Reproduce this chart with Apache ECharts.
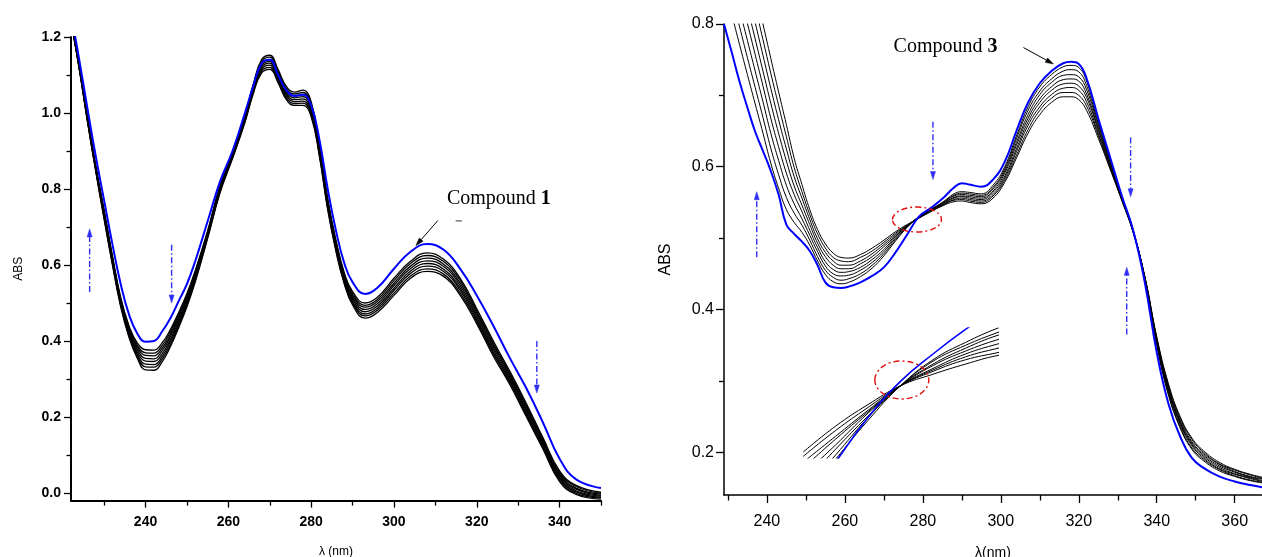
<!DOCTYPE html>
<html><head><meta charset="utf-8">
<script src="https://cdn.jsdelivr.net/npm/echarts@6/dist/echarts.min.js"></script>
<style>html,body{margin:0;padding:0;background:#fff}#c{width:1262px;height:557px}</style>
</head><body><div id="c"></div>
<script>
// ---------- Left panel (Compound 1) ----------
const xL = [222,224,226,228,230,232,234,236,238,240,242,244,246,248,250,252,255,258,261,264,266,268,270,272,274,276,278,280,282,284,286,288,290,293,296,300,304,308,312,316,320,324,328,332,336,340,344,350];
const blueL = [1.26,1.14,1.01,0.885,0.77,0.655,0.55,0.47,0.42,0.398,0.40,0.425,0.46,0.505,0.55,0.61,0.715,0.82,0.90,1.00,1.07,1.13,1.14,1.10,1.06,1.045,1.048,1.02,0.93,0.80,0.69,0.605,0.555,0.524,0.54,0.59,0.635,0.655,0.64,0.59,0.52,0.44,0.355,0.275,0.185,0.09,0.036,0.013];
const blackL1 = [1.25,1.125,0.99,0.86,0.745,0.625,0.515,0.44,0.395,0.377,0.376,0.395,0.43,0.475,0.525,0.585,0.69,0.81,0.895,0.995,1.075,1.14,1.152,1.115,1.07,1.055,1.06,1.03,0.915,0.775,0.665,0.58,0.53,0.50,0.515,0.565,0.61,0.632,0.615,0.565,0.485,0.40,0.32,0.235,0.145,0.058,0.02,0.002];
const blackL2 = [1.249,1.124,0.988,0.858,0.741,0.621,0.511,0.436,0.389,0.369,0.368,0.388,0.424,0.469,0.52,0.581,0.687,0.807,0.893,0.992,1.071,1.135,1.147,1.11,1.065,1.05,1.054,1.024,0.911,0.771,0.661,0.576,0.525,0.494,0.509,0.559,0.604,0.625,0.609,0.559,0.479,0.394,0.315,0.23,0.141,0.054,0.017,-0.001];
const blackL3 = [1.247,1.122,0.986,0.856,0.738,0.618,0.508,0.431,0.384,0.362,0.361,0.381,0.417,0.464,0.515,0.576,0.684,0.804,0.891,0.989,1.068,1.13,1.141,1.105,1.06,1.045,1.049,1.019,0.906,0.766,0.656,0.571,0.52,0.489,0.504,0.552,0.597,0.618,0.602,0.552,0.474,0.389,0.31,0.225,0.136,0.05,0.013,-0.003];
const blackL4 = [1.246,1.121,0.984,0.854,0.734,0.614,0.504,0.427,0.378,0.354,0.353,0.374,0.411,0.458,0.51,0.572,0.681,0.801,0.889,0.986,1.064,1.125,1.136,1.10,1.055,1.04,1.043,1.013,0.902,0.762,0.652,0.567,0.515,0.483,0.498,0.546,0.591,0.611,0.596,0.546,0.468,0.383,0.305,0.22,0.132,0.046,0.01,-0.006];
const blackL5 = [1.244,1.119,0.981,0.851,0.731,0.611,0.501,0.423,0.372,0.347,0.346,0.366,0.404,0.452,0.505,0.568,0.679,0.799,0.886,0.984,1.061,1.12,1.131,1.095,1.05,1.035,1.037,1.007,0.898,0.758,0.648,0.563,0.51,0.477,0.492,0.539,0.584,0.604,0.589,0.539,0.462,0.377,0.30,0.215,0.128,0.042,0.006,-0.008];
const blackL6 = [1.243,1.118,0.979,0.849,0.727,0.607,0.497,0.419,0.366,0.339,0.338,0.359,0.398,0.446,0.50,0.564,0.676,0.796,0.884,0.981,1.057,1.115,1.126,1.09,1.045,1.03,1.031,1.001,0.894,0.754,0.644,0.559,0.505,0.471,0.486,0.533,0.578,0.597,0.583,0.533,0.456,0.371,0.295,0.21,0.124,0.038,0.003,-0.011];
const blackL7 = [1.241,1.116,0.977,0.847,0.724,0.604,0.494,0.414,0.361,0.332,0.331,0.352,0.391,0.441,0.495,0.559,0.673,0.793,0.882,0.978,1.054,1.11,1.12,1.085,1.04,1.025,1.026,0.996,0.889,0.749,0.639,0.554,0.50,0.466,0.481,0.526,0.571,0.59,0.576,0.526,0.451,0.366,0.29,0.205,0.119,0.034,-0.001,-0.013];
const blackL8 = [1.24,1.115,0.975,0.845,0.72,0.60,0.49,0.41,0.355,0.324,0.323,0.345,0.385,0.435,0.49,0.555,0.67,0.79,0.88,0.975,1.05,1.105,1.115,1.08,1.035,1.02,1.02,0.99,0.885,0.745,0.635,0.55,0.495,0.46,0.475,0.52,0.565,0.583,0.57,0.52,0.445,0.36,0.285,0.20,0.115,0.03,-0.004,-0.016];

// ---------- Right panel (Compound 3) ----------
const xR = [229,231,233,235,237,239,241,243,245,247,249,251,253,255,257,259,261,264,267,270,273,276,279,282,285,288,290,292,295,298,301,304,307,310,313,316,318,320,322,325,328,331,334,337,340,343,346,349,352,356,360,364,367];
const blueR = [.80,.76,.719,.683,.649,.622,.594,.561,.519,.506,.495,.482,.462,.438,.431,.430,.432,.438,.447,.459,.48,.505,.530,.542,.555,.571,.577,.575,.572,.582,.607,.650,.690,.717,.734,.745,.747,.744,.724,.668,.614,.560,.510,.436,.340,.268,.222,.192,.178,.166,.159,.154,.151];
const blackR1 = [.855,.813,.771,.729,.688,.647,.605,.570,.540,.522,.508,.490,.468,.449,.439,.436,.438,.446,.458,.475,.496,.515,.530,.540,.550,.562,.565,.564,.562,.574,.600,.643,.684,.712,.729,.740,.742,.739,.720,.665,.612,.559,.510,.441,.350,.280,.234,.204,.188,.174,.166,.160,.157];
const blackR2 = [.881,.839,.796,.753,.711,.669,.626,.589,.557,.535,.518,.497,.474,.455,.445,.441,.443,.450,.462,.478,.498,.516,.530,.540,.549,.560,.563,.562,.560,.571,.597,.639,.679,.706,.723,.734,.736,.733,.714,.661,.610,.558,.510,.442,.352,.282,.236,.206,.190,.176,.167,.161,.158];
const blackR3 = [.908,.864,.820,.777,.734,.691,.647,.609,.574,.548,.527,.504,.481,.461,.450,.447,.448,.455,.466,.481,.500,.516,.529,.539,.549,.559,.561,.560,.558,.569,.594,.634,.673,.701,.718,.728,.729,.726,.708,.658,.608,.557,.509,.442,.353,.285,.239,.209,.192,.177,.169,.163,.159];
const blackR4 = [.934,.890,.845,.801,.757,.713,.668,.628,.591,.561,.537,.511,.487,.467,.456,.452,.453,.459,.470,.484,.502,.517,.529,.539,.548,.557,.559,.558,.556,.566,.591,.630,.668,.695,.712,.722,.723,.720,.702,.654,.606,.556,.509,.443,.355,.287,.241,.211,.194,.179,.170,.164,.160];
const blackR5 = [.961,.915,.870,.824,.779,.734,.689,.647,.608,.573,.546,.519,.493,.474,.462,.457,.457,.464,.474,.488,.503,.517,.529,.538,.547,.556,.558,.556,.554,.564,.587,.625,.663,.690,.707,.716,.717,.713,.697,.651,.603,.556,.508,.443,.357,.289,.243,.213,.196,.181,.172,.165,.162];
const blackR6 = [.987,.941,.895,.848,.802,.756,.710,.666,.625,.586,.556,.526,.499,.480,.468,.462,.462,.468,.478,.491,.505,.518,.529,.538,.546,.554,.556,.554,.552,.561,.584,.621,.658,.684,.701,.710,.711,.707,.691,.647,.601,.555,.508,.444,.359,.291,.245,.215,.198,.183,.173,.166,.163];
const blackR7 = [1.014,.966,.919,.872,.825,.778,.731,.686,.642,.599,.565,.533,.506,.486,.473,.468,.467,.473,.482,.494,.507,.518,.528,.537,.546,.553,.554,.552,.550,.559,.581,.616,.652,.679,.696,.704,.704,.700,.685,.644,.599,.554,.507,.444,.360,.294,.248,.218,.200,.184,.175,.168,.164];
const blackR8 = [1.04,.992,.944,.896,.848,.800,.752,.705,.659,.612,.575,.540,.512,.492,.479,.473,.472,.477,.486,.497,.509,.519,.528,.537,.545,.551,.552,.550,.548,.556,.578,.612,.647,.673,.690,.698,.698,.694,.679,.640,.597,.553,.507,.445,.362,.296,.250,.220,.202,.186,.176,.169,.165];

// ---------- Inset (magnified isosbestic region of compound 3) ----------
const xIn = [260,265,270,275,280,285,290,295];
const blueIn = [0.444,0.477,0.508,0.533,0.552,0.569,0.584,0.598];
const blackIn1 = [0.451,0.479,0.506,0.530,0.548,0.560,0.570,0.578];
const blackIn2 = [0.457,0.482,0.508,0.530,0.547,0.558,0.567,0.575];
const blackIn3 = [0.462,0.486,0.509,0.530,0.545,0.556,0.565,0.571];
const blackIn4 = [0.468,0.489,0.511,0.530,0.544,0.554,0.562,0.568];
const blackIn5 = [0.473,0.493,0.512,0.530,0.542,0.552,0.559,0.565];
const blackIn6 = [0.477,0.495,0.513,0.530,0.541,0.550,0.556,0.561];
const blackIn7 = [0.481,0.499,0.515,0.530,0.540,0.548,0.553,0.558];
const blackIn8 = [0.484,0.502,0.517,0.530,0.538,0.545,0.551,0.554];

// ---------- Tick values ----------
const ticksLx = [240,260,280,300,320,340];
const minorLx = [230,250,270,290,310,330,350];
const ticksLy = [0,0.2,0.4,0.6,0.8,1.0,1.2];
const minorLy = [0.1,0.3,0.5,0.7,0.9,1.1];
const ticksRx = [240,260,280,300,320,340,360];
const minorRx = [230,250,270,290,310,330,350];
const ticksRy = [0.2,0.4,0.6,0.8];
const minorRy = [0.3,0.5,0.7];

// ---------- Annotations (data coordinates) ----------
const arrowsL = [[226.5,0.529,0.695],[246.3,0.653,0.50],[334.5,0.40,0.263]];
const arrowsR = [[237.4,0.473,0.565],[282.6,0.663,0.582],[333.3,0.641,0.558],[332.3,0.365,0.459]];
const pointerL = [[310.6,0.717],[305.3,0.651]];
const pointerR = [[305.8,0.767],[313.5,0.744]];
const tickMarkL = [[314.9,0.716],[316.4,0.716]];
const labelL = {x:312.8, y:0.774, name:'Compound ', num:'1'};
const labelR = {x:272.5, y:0.768, name:'Compound ', num:'3'};
const ellipseMain = {x:278.5, y:0.526};
const ellipseInset = {x:275.2, y:0.534};

const chart = echarts.init(document.getElementById('c'), null, {renderer:'canvas'});
const pairs = (xs, ys) => xs.map((x, i) => [x, ys[i]]);
const SANS = 'Liberation Sans';

function lineSeries(g, xs, ys, color, width, z) {
  return {
    type:'line', xAxisIndex:g, yAxisIndex:g, data:pairs(xs, ys),
    symbol:'none', showSymbol:false, smooth:0.45,
    lineStyle:{color:color, width:width}, silent:true, z:z, clip:true, animation:false
  };
}
const series = [];
[blackL1,blackL2,blackL3,blackL4,blackL5,blackL6,blackL7,blackL8].forEach(b => series.push(lineSeries(0, xL, b, '#000', 1.3, 2)));
series.push(lineSeries(0, xL, blueL, '#0000ff', 2, 3));
[blackR1,blackR2,blackR3,blackR4,blackR5,blackR6,blackR7,blackR8].forEach(b => series.push(lineSeries(1, xR, b, '#000', 1, 2)));
series.push(lineSeries(1, xR, blueR, '#0000ff', 2, 3));
[blackIn1,blackIn2,blackIn3,blackIn4,blackIn5,blackIn6,blackIn7,blackIn8].forEach(b => series.push(lineSeries(2, xIn, b, '#000', 1, 2)));
series.push(lineSeries(2, xIn, blueIn, '#0000ff', 1.6, 3));

function mainAxis(o) {
  return Object.assign({
    type:'value', splitLine:{show:false}, minorSplitLine:{show:false}, minorTick:{show:false},
    axisLine:{show:true, onZero:false, lineStyle:{color:'#000', width:o.lw}},
    axisTick:{show:true, inside:false, length:o.tl, customValues:o.ticks, lineStyle:{color:'#000', width:1.3}},
    axisLabel:{show:true, customValues:o.ticks, color:'#000', fontFamily:SANS,
      fontWeight:o.bold ? 'bold' : 'normal', fontSize:o.fs, margin:o.margin, formatter:o.fmt},
    nameLocation:'middle', nameGap:o.gap,
    nameTextStyle:{color:'#000', fontFamily:SANS, fontSize:o.nfs}
  }, o.base);
}
function minorAxis(o) {
  return Object.assign({
    type:'value', splitLine:{show:false}, minorTick:{show:false},
    axisLine:{show:false, onZero:false},
    axisTick:{show:true, inside:false, length:o.len, customValues:o.ticks, lineStyle:{color:'#000', width:1.3}},
    axisLabel:{show:false}
  }, o.base);
}
const fmtInt = v => String(Math.round(v));
const fmtDec = v => Number(v).toFixed(1);

const option = {
  animation:false,
  backgroundColor:'#fff',
  textStyle:{fontFamily:SANS},
  grid:[
    {left:71, top:37, width:530, height:463.6, containLabel:false, outerBoundsMode:'none'},
    {left:724, top:24, width:538, height:471, containLabel:false, outerBoundsMode:'none'},
    {left:803, top:328, width:195, height:130, containLabel:false, outerBoundsMode:'none'}
  ],
  xAxis:[
    mainAxis({lw:2, tl:7, bold:true, fs:14, margin:15, gap:45, nfs:12, ticks:ticksLx, fmt:fmtInt,
      base:{gridIndex:0, min:222, max:350, name:'λ (nm)'}}),
    mainAxis({lw:1.5, tl:8, bold:false, fs:16, margin:19, gap:51, nfs:14, ticks:ticksRx, fmt:fmtInt,
      base:{gridIndex:1, min:229, max:367, name:'λ(nm)'}}),
    {type:'value', gridIndex:2, min:260, max:290, show:false, splitLine:{show:false}},
    minorAxis({len:5, ticks:minorLx, base:{gridIndex:0, min:222, max:350, position:'bottom'}}),
    minorAxis({len:5.5, ticks:minorRx, base:{gridIndex:1, min:229, max:367, position:'bottom'}})
  ],
  yAxis:[
    mainAxis({lw:2, tl:7, bold:true, fs:14, margin:10, gap:46, nfs:12, ticks:ticksLy, fmt:fmtDec,
      base:{gridIndex:0, min:-0.02, max:1.2, name:'ABS', nameRotate:90}}),
    mainAxis({lw:1.5, tl:8, bold:false, fs:16, margin:10, gap:50, nfs:16, ticks:ticksRy, fmt:fmtDec,
      base:{gridIndex:1, min:0.14, max:0.8, name:'ABS', nameRotate:90}}),
    {type:'value', gridIndex:2, min:0.48, max:0.57, show:false, splitLine:{show:false}},
    minorAxis({len:4.5, ticks:minorLy, base:{gridIndex:0, min:-0.02, max:1.2, position:'left'}}),
    minorAxis({len:5, ticks:minorRy, base:{gridIndex:1, min:0.14, max:0.8, position:'left'}})
  ],
  series:series
};
chart.setOption(option);

const px = (g, x, y) => chart.convertToPixel({gridIndex:g}, [x, y]);
function label(g, l) {
  const p = px(g, l.x, l.y);
  return {type:'text', x:p[0], y:p[1], silent:true, z:10,
    style:{text:l.name + '{b|' + l.num + '}', fill:'#000', fontFamily:'Liberation Serif', fontSize:20,
      verticalAlign:'middle', align:'left',
      rich:{b:{fontFamily:'Liberation Serif', fontSize:20, fontWeight:'bold', fill:'#000'}}}};
}
function ell(g, c, rx, ry) {
  const p = px(g, c.x, c.y);
  return {type:'ellipse', silent:true, z:10,
    shape:{cx:p[0], cy:p[1], rx:rx, ry:ry},
    style:{fill:'none', stroke:'#e01010', lineWidth:1.4, lineDash:[6,3,2,3]}};
}
function arrow(g, from, to, color, dash, width, headLen, headW) {
  const a = px(g, from[0], from[1]), b = px(g, to[0], to[1]);
  const dx = b[0]-a[0], dy = b[1]-a[1], L = Math.hypot(dx, dy), ux = dx/L, uy = dy/L;
  const base = [b[0]-ux*headLen, b[1]-uy*headLen];
  const l = [base[0]-uy*headW/2, base[1]+ux*headW/2], r = [base[0]+uy*headW/2, base[1]-ux*headW/2];
  return [
    {type:'line', silent:true, z:10, shape:{x1:a[0], y1:a[1], x2:base[0], y2:base[1]},
      style:{stroke:color, lineWidth:width, lineDash:dash}},
    {type:'polygon', silent:true, z:10, shape:{points:[b, l, r]}, style:{fill:color, stroke:color, lineWidth:0.5}}
  ];
}
function segment(g, s, color, width) {
  const a = px(g, s[0][0], s[0][1]), b = px(g, s[1][0], s[1][1]);
  return {type:'line', silent:true, z:10, shape:{x1:a[0], y1:a[1], x2:b[0], y2:b[1]}, style:{stroke:color, lineWidth:width}};
}
const blueDash = [6,2.5,1.5,2.5];
let els = [label(0, labelL), label(1, labelR), ell(1, ellipseMain, 24.5, 12.5), ell(2, ellipseInset, 27, 19), segment(0, tickMarkL, '#333', 1)];
arrowsL.forEach(a => { els = els.concat(arrow(0, [a[0],a[1]], [a[0],a[2]], '#2f2ff5', blueDash, 1.4, 8, 5)); });
arrowsR.forEach(a => { els = els.concat(arrow(1, [a[0],a[1]], [a[0],a[2]], '#2f2ff5', blueDash, 1.4, 8, 5)); });
els = els.concat(arrow(0, pointerL[0], pointerL[1], '#000', null, 1, 8, 5));
els = els.concat(arrow(1, pointerR[0], pointerR[1], '#000', null, 1, 8, 5));
chart.setOption({graphic:els});
</script></body></html>
